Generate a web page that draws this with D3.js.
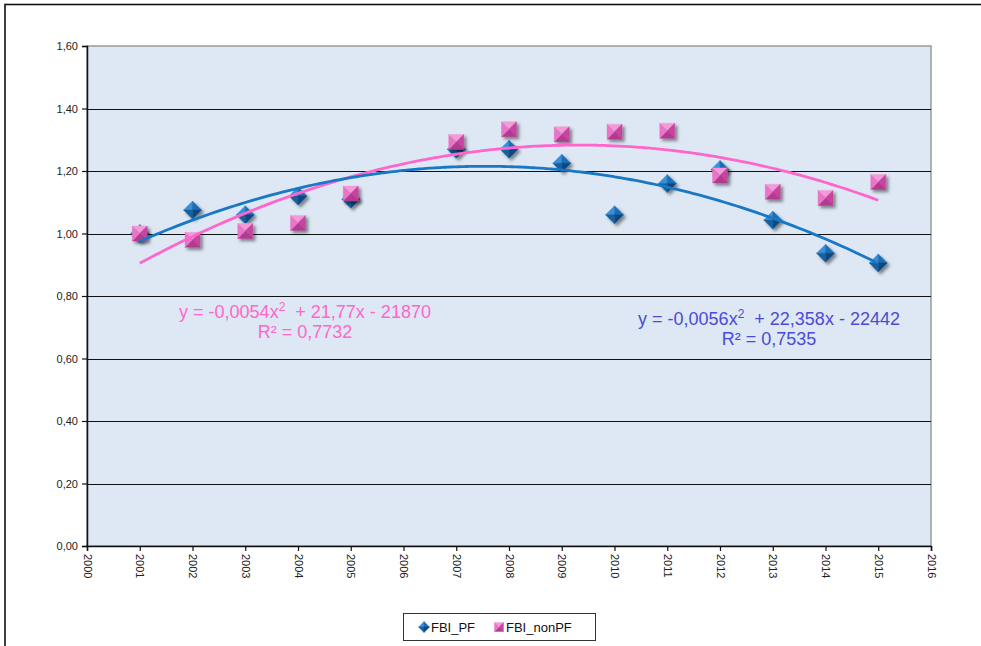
<!DOCTYPE html>
<html><head><meta charset="utf-8">
<script src="https://cdn.jsdelivr.net/npm/d3@7"></script>
<style>body{margin:0;background:#fff} svg{display:block}</style>
</head><body><svg id="c" width="981" height="646"></svg>
<script>
const years = [2001,2002,2003,2004,2005,2007,2008,2009,2010,2011,2012,2013,2014,2015];
const fbiPF = [1.00,1.075,1.06,1.12,1.11,1.27,1.27,1.225,1.06,1.16,1.205,1.043,0.937,0.906];
const fbiNonPF = [1.00,0.98,1.008,1.034,1.128,1.293,1.334,1.318,1.326,1.329,1.186,1.134,1.114,1.165];
const yTicks = [0,0.2,0.4,0.6,0.8,1.0,1.2,1.4,1.6];
const xTicks = [2000,2001,2002,2003,2004,2005,2006,2007,2008,2009,2010,2011,2012,2013,2014,2015,2016];
const eqPF = [["y = -0,0056x","2","  + 22,358x - 22442"],["R\u00B2 = 0,7535"]];
const eqNonPF = [["y = -0,0054x","2","  + 21,77x - 21870"],["R\u00B2 = 0,7732"]];
const seriesNames = ["FBI_PF","FBI_nonPF"];

const svg = d3.select("#c");
const font = "'Liberation Sans', Arial, sans-serif";
const x = d3.scaleLinear([2000,2016],[87,931]);
const y = d3.scaleLinear([0,1.6],[546,46]);

const defs = svg.append("defs");
const f = defs.append("filter").attr("id","sh").attr("x","-50%").attr("y","-50%").attr("width","200%").attr("height","200%");
f.append("feDropShadow").attr("dx",2.5).attr("dy",2.5).attr("stdDeviation",1.6).attr("flood-color","#000").attr("flood-opacity",0.45);

// outer frame
svg.append("rect").attr("x",5).attr("y",4.5).attr("width",1100).attr("height",800)
  .attr("fill","none").attr("stroke","#111").attr("stroke-width",1.6);

// plot area
svg.append("rect").attr("x",x(2000)).attr("y",y(1.6)).attr("width",x(2016)-x(2000)).attr("height",y(0)-y(1.6))
  .attr("fill","#dde8f4").attr("stroke","#9a9a9a").attr("stroke-width",1.5);

// gridlines
svg.append("g").selectAll("line").data(yTicks.filter(d=>d>0 && d<1.6)).join("line")
  .attr("x1",x(2000)).attr("x2",x(2016)).attr("y1",d=>Math.round(y(d))+0.5).attr("y2",d=>Math.round(y(d))+0.5)
  .attr("stroke","#111").attr("stroke-width",1.2);

// axes
const yAx = svg.append("g").attr("transform",`translate(${x(2000)},0)`)
  .call(d3.axisLeft(y).tickValues(yTicks).tickSize(5).tickPadding(4).tickFormat(d=>d3.format(".2f")(d).replace(".",",")));
const xAx = svg.append("g").attr("transform",`translate(0,${y(0)})`)
  .call(d3.axisBottom(x).tickValues(xTicks).tickSize(5).tickFormat(d3.format("d")));
[yAx,xAx].forEach(a=>{
  a.select(".domain").attr("stroke","#111").attr("stroke-width",1.5);
  a.selectAll(".tick line").attr("stroke","#111").attr("stroke-width",1.2);
  a.selectAll("text").attr("font-family",font).attr("font-size",11).attr("fill","#222");
});
xAx.selectAll("text").attr("transform","rotate(90)").attr("text-anchor","start")
  .attr("x",8).attr("y",0).attr("dy","0.35em");

// quadratic least-squares fit
function quadFit(xs, ys){
  const m = d3.mean(xs);
  const t = xs.map(v=>v-m);
  const S = k=>d3.sum(t,v=>Math.pow(v,k));
  const T = k=>d3.sum(t,(v,i)=>Math.pow(v,k)*ys[i]);
  const A = [[S(4),S(3),S(2)],[S(3),S(2),S(1)],[S(2),S(1),xs.length]];
  const b = [T(2),T(1),T(0)];
  for(let i=0;i<3;i++){
    for(let j=i+1;j<3;j++){
      const r=A[j][i]/A[i][i];
      for(let k=i;k<3;k++) A[j][k]-=r*A[i][k];
      b[j]-=r*b[i];
    }
  }
  const c=[0,0,0];
  for(let i=2;i>=0;i--){
    let s=b[i]; for(let k=i+1;k<3;k++) s-=A[i][k]*c[k];
    c[i]=s/A[i][i];
  }
  return v=>{const u=v-m; return c[0]*u*u+c[1]*u+c[2];};
}
const fitPF = quadFit(years,fbiPF);
const fitNon = quadFit(years,fbiNonPF);
const samples = d3.range(years[0], years[years.length-1]+0.001, 0.1);
const line = d3.line().x(d=>x(d[0])).y(d=>y(d[1])).curve(d3.curveMonotoneX);

// markers
const H = 9, Q = 7.5;
const dCols = ["#3a8fd8","#1d6db4","#0b4682","#15609e"];
const sCols = ["#f49ad8","#c8449f","#b33a8f","#e874c6"];
function diamond(g, cx, cy, h, shadow){
  const T=[cx,cy-h],R=[cx+h,cy],B=[cx,cy+h],L=[cx-h,cy],C=[cx,cy];
  const gg = g.append("g").attr("filter",shadow?"url(#sh)":null);
  [[L,T],[T,R],[R,B],[B,L]].forEach(([p,q],i)=>{
    gg.append("path").attr("d",`M${p}L${q}L${C}Z`).attr("fill",dCols[i]).attr("stroke",dCols[i]).attr("stroke-width",0.4);
  });
}
function square(g, cx, cy, h, shadow){
  const TL=[cx-h,cy-h],TR=[cx+h,cy-h],BR=[cx+h,cy+h],BL=[cx-h,cy+h],C=[cx,cy];
  const gg = g.append("g").attr("filter",shadow?"url(#sh)":null);
  [[TL,TR],[TR,BR],[BR,BL],[BL,TL]].forEach(([p,q],i)=>{
    gg.append("path").attr("d",`M${p}L${q}L${C}Z`).attr("fill",sCols[i]).attr("stroke",sCols[i]).attr("stroke-width",0.4);
  });
}

const gm = svg.append("g");
years.forEach((yr,i)=>diamond(gm, x(yr), y(fbiPF[i]), H, true));
years.forEach((yr,i)=>square(gm, x(yr), y(fbiNonPF[i]), Q, true));

// trend lines on top
svg.append("path").datum(samples.map(v=>[v,fitNon(v)])).attr("d",line)
  .attr("fill","none").attr("stroke","#ff66cc").attr("stroke-width",2.8);
svg.append("path").datum(samples.map(v=>[v,fitPF(v)])).attr("d",line)
  .attr("fill","none").attr("stroke","#1878c6").attr("stroke-width",2.8);

// equations
function equation(lines, cx, by, col){
  const g = svg.append("g").attr("font-family",font).attr("font-size",18).attr("text-anchor","middle").attr("fill",col)
    .style("white-space","pre");
  lines.forEach((parts,i)=>{
    const t = g.append("text").attr("x",cx).attr("y",by+i*20).attr("xml:space","preserve");
    parts.forEach((p,j)=>{
      const ts = t.append("tspan").text(p);
      if(parts.length>1 && j===1) ts.attr("font-size",12).attr("dy",-7);
      if(parts.length>1 && j===2) ts.attr("dy",7);
    });
  });
}
equation(eqNonPF, 305, 318, "#ff66cc");
equation(eqPF, 769, 325, "#4b4bd6");

// legend
const lg = svg.append("g");
lg.append("rect").attr("x",403.5).attr("y",613.5).attr("width",192).attr("height",27).attr("fill","#fff").attr("stroke","#333").attr("stroke-width",1);
diamond(lg, 424, 627, 5.5, false);
square(lg, 499, 627, 4.5, false);
lg.selectAll("text").data(seriesNames).join("text").attr("x",(d,i)=>i?506:431).attr("y",632)
  .attr("font-family",font).attr("font-size",13).attr("fill","#111").text(d=>d);
</script></body></html>
